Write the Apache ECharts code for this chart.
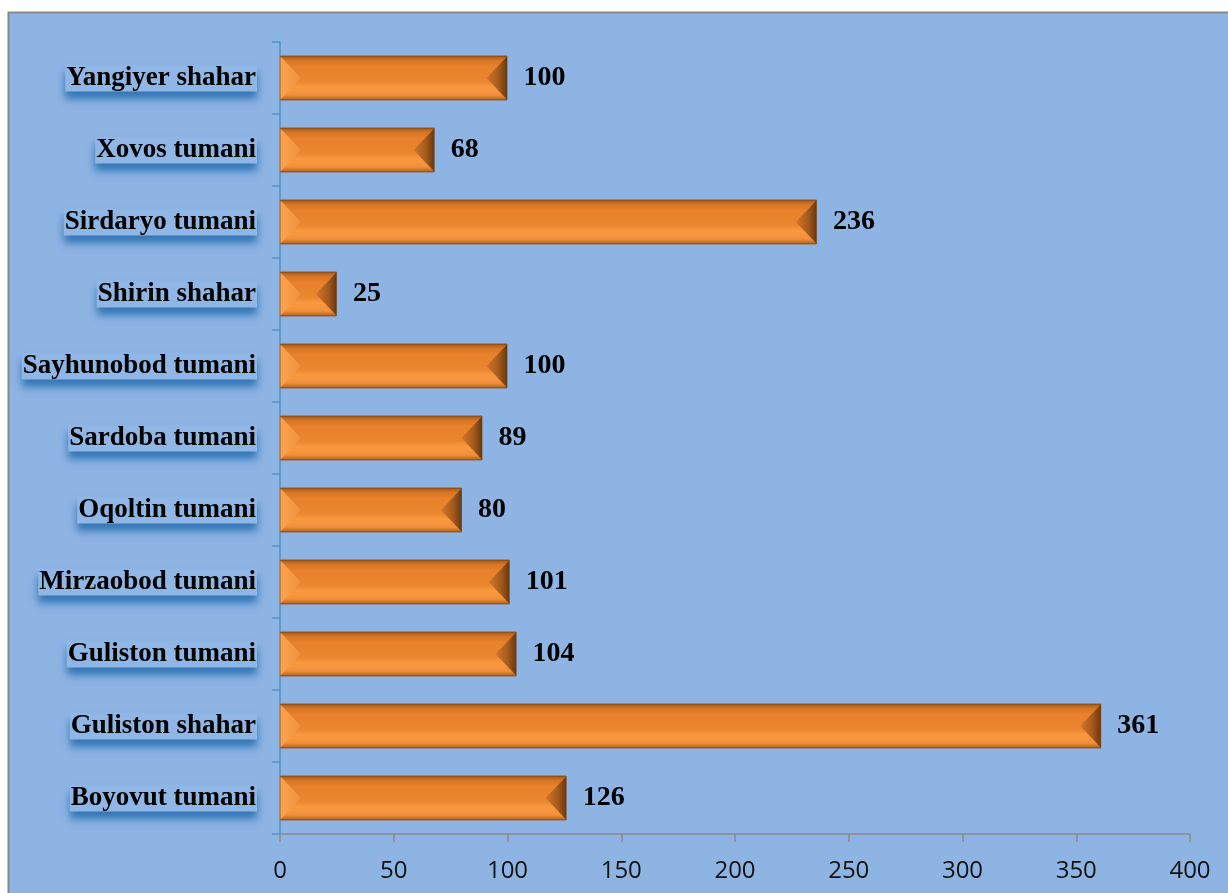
<!DOCTYPE html>
<html><head><meta charset="utf-8">
<script src="https://cdn.jsdelivr.net/npm/echarts@6/dist/echarts.min.js"></script>
<style>html,body{margin:0;padding:0;background:#fff}#c{width:1228px;height:893px}</style>
</head><body><div id="c"></div>
<script>
const categories = ['Boyovut tumani','Guliston shahar','Guliston tumani','Mirzaobod tumani','Oqoltin tumani','Sardoba tumani','Sayhunobod tumani','Shirin shahar','Sirdaryo tumani','Xovos tumani','Yangiyer shahar'];
const values = [126, 361, 104, 101, 80, 89, 100, 25, 236, 68, 100];
const xTicks = {min: 0, max: 400, interval: 50};

const chart = echarts.init(document.getElementById('c'));
const barFrac = 0.625;
chart.setOption({
  backgroundColor: '#ffffff',
  animation: false,
  graphic: [{type:'rect', z:-10, shape:{x:8.5,y:12.5,width:1240,height:900}, style:{fill:'#8EB4E3', stroke:'#888888', lineWidth:2}}],
  grid: {left: 280, right: 38, top: 42, bottom: 59},
  xAxis: {
    type: 'value', min: xTicks.min, max: xTicks.max, interval: xTicks.interval,
    axisLine: {show: true, lineStyle: {color: '#8A8A8A', width: 1.5}},
    axisTick: {show: true, length: 8, lineStyle: {color: '#8A8A8A', width: 1.5}},
    splitLine: {show: false},
    axisLabel: {fontFamily: 'Open Sans', fontSize: 24, color: '#111', margin: 25}
  },
  yAxis: {
    type: 'category', data: categories,
    axisLine: {show: true, lineStyle: {color: '#4F93C8', width: 1.5}},
    axisTick: {show: true, length: 8, lineStyle: {color: '#4F93C8', width: 1.5}},
    axisLabel: {
      fontFamily: 'Liberation Serif', fontWeight: 'bold', fontSize: 27, color: '#000', margin: 23,
      backgroundColor: '#8FB6E5', padding: [0, 1, 0, 1],
      shadowColor: 'rgba(40,110,175,0.9)', shadowBlur: 8, shadowOffsetY: 7
    }
  },
  series: [{
    type: 'bar', data: values, barWidth: (barFrac*100)+'%',
    itemStyle: {
      borderColor: 'rgba(110,70,30,0.7)', borderWidth: 1,
      color: {type:'linear', x:0, y:0, x2:0, y2:1, colorStops:[
        {offset:0, color:'#9A5216'}, {offset:0.1, color:'#D57425'}, {offset:0.25, color:'#E8822B'},
        {offset:0.55, color:'#E8852D'}, {offset:0.7, color:'#F9993F'}, {offset:0.88, color:'#F0903A'},
        {offset:1, color:'#A35A1B'}]}
    },
    label: {show: true, position: 'right', distance: 16, fontFamily: 'Liberation Serif', fontWeight: 'bold', fontSize: 28, color: '#000'},
    z: 2
  }, {
    type: 'custom', z: 3, silent: true,
    data: values.map((v, i) => [v, i]),
    encode: {x: 0, y: 1},
    renderItem: function (params, api) {
      const s = api.coord([0, api.value(1)]);
      const e = api.coord([api.value(0), api.value(1)]);
      const h = api.size([0, 1])[1] * barFrac;
      const y0 = s[1] - h/2, y1 = s[1] + h/2, x0 = s[0], x1 = e[0], ym = s[1];
      const d = Math.min(21, (x1 - x0) / 2.5);
      return {type: 'group', children: [
        {type: 'polygon', shape: {points: [[x0+0.5, y0+1], [x0+d, ym], [x0+0.5, y1-1]]},
         style: {fill: {type:'linear', x:0, y:0, x2:1, y2:0, colorStops:[{offset:0, color:'#FBA24E'},{offset:1, color:'#F2913C'}]}}},
        {type: 'polygon', shape: {points: [[x1-0.5, y0+1], [x1-d, ym], [x1-0.5, y1-1]]},
         style: {fill: {type:'linear', x:0, y:0, x2:1, y2:0, colorStops:[{offset:0, color:'#D4752A'},{offset:0.6, color:'#A45A1C'},{offset:1, color:'#6A380E'}]}}}
      ]};
    }
  }]
});
</script></body></html>
